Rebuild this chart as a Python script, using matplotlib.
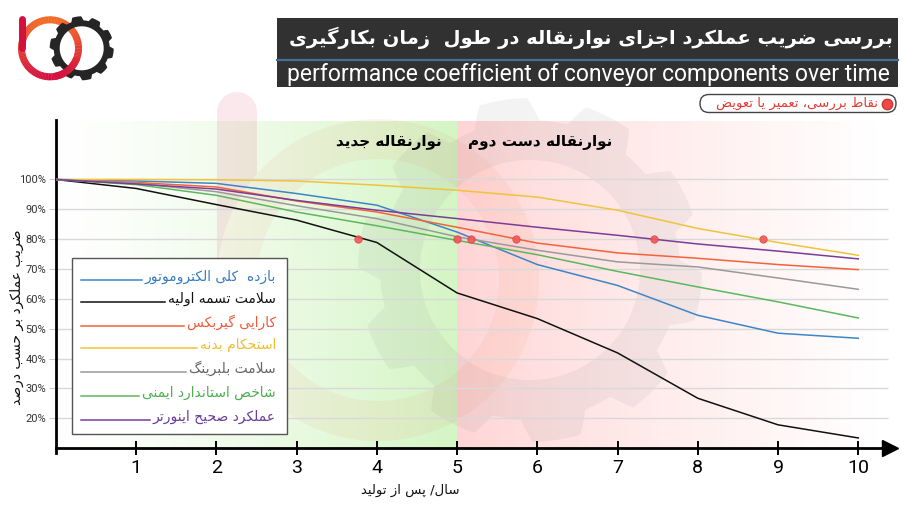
import numpy as np
import matplotlib.pyplot as plt
from matplotlib.patches import Rectangle, FancyBboxPatch, Wedge, PathPatch
from matplotlib.path import Path
from matplotlib.lines import Line2D
from matplotlib.transforms import Affine2D

## DATA

years = [0, 1, 2, 3, 4, 5, 6, 7, 8, 9, 10]
motor = [100, 99.5, 98.7, 95.3, 91.4, 82.4, 71.5, 64.5, 54.5, 48.5, 46.8]
belt = [100, 97.0, 91.6, 86.4, 78.9, 62.0, 53.4, 41.9, 26.7, 17.8, 13.4]
gearbox = [100, 99.0, 97.5, 92.8, 89.1, 84.0, 78.7, 75.4, 73.6, 71.5, 69.8]
body = [100, 100, 99.9, 99.5, 98.1, 96.4, 94.1, 89.7, 83.6, 78.9, 74.6]
bearing = [100, 98.7, 95.9, 91.2, 86.9, 80.8, 76.3, 72.4, 70.7, 67.0, 63.2]
safety = [100, 98.3, 94.7, 89.1, 84.5, 79.6, 74.8, 69.2, 64.0, 59.0, 53.6]
inverter = [100, 98.5, 96.8, 93.0, 89.7, 86.9, 84.0, 81.3, 78.4, 76.0, 73.4]

check_x = [3.77, 5.0, 5.17, 5.73, 7.45, 8.81]
check_y = [80, 80, 80, 80, 80, 80]

x_ticks = [1, 2, 3, 4, 5, 6, 7, 8, 9, 10]
y_ticks = [20, 30, 40, 50, 60, 70, 80, 90, 100]

names = ['بازده  کلی الکتروموتور', 'سلامت تسمه اولیه', 'کارایی گیربکس', 'استحکام بدنه',
         'سلامت بلبرینگ', 'شاخص استاندارد ایمنی', 'عملکرد صحیح اینورتر']
line_colors = ['#3d85c6', '#111111', '#f4623a', '#efc43a', '#9a9a9a', '#5cb85c', '#7d3c98']
text_colors = ['#3a7cc0', '#111111', '#f05a3a', '#eebf2f', '#666666', '#4caf50', '#6a3d9a']

title_fa = 'بررسی ضریب عملکرد اجزای نوارنقاله در طول  زمان بکارگیری'
title_en = 'performance coefficient of conveyor components over time'
badge = 'نقاط بررسی، تعمیر یا تعویض'
zone_new = 'نوارنقاله جدید'
zone_used = 'نوارنقاله دست دوم'
x_label = 'سال/ پس از تولید'
y_label = 'ضریب عملکرد بر حسب درصد'

## PERSIAN SHAPING (no reshaper lib available, so presentation forms by hand)

FORMS = {
    'ا': ('\uFE8D', '\uFE8E', None, None),
    'آ': ('\uFE81', '\uFE82', None, None),
    'ب': ('\uFE8F', '\uFE90', '\uFE91', '\uFE92'),
    'پ': ('\uFB56', '\uFB57', '\uFB58', '\uFB59'),
    'ت': ('\uFE95', '\uFE96', '\uFE97', '\uFE98'),
    'ث': ('\uFE99', '\uFE9A', '\uFE9B', '\uFE9C'),
    'ج': ('\uFE9D', '\uFE9E', '\uFE9F', '\uFEA0'),
    'چ': ('\uFB7A', '\uFB7B', '\uFB7C', '\uFB7D'),
    'ح': ('\uFEA1', '\uFEA2', '\uFEA3', '\uFEA4'),
    'خ': ('\uFEA5', '\uFEA6', '\uFEA7', '\uFEA8'),
    'د': ('\uFEA9', '\uFEAA', None, None),
    'ذ': ('\uFEAB', '\uFEAC', None, None),
    'ر': ('\uFEAD', '\uFEAE', None, None),
    'ز': ('\uFEAF', '\uFEB0', None, None),
    'ژ': ('\uFB8A', '\uFB8B', None, None),
    'س': ('\uFEB1', '\uFEB2', '\uFEB3', '\uFEB4'),
    'ش': ('\uFEB5', '\uFEB6', '\uFEB7', '\uFEB8'),
    'ص': ('\uFEB9', '\uFEBA', '\uFEBB', '\uFEBC'),
    'ض': ('\uFEBD', '\uFEBE', '\uFEBF', '\uFEC0'),
    'ط': ('\uFEC1', '\uFEC2', '\uFEC3', '\uFEC4'),
    'ظ': ('\uFEC5', '\uFEC6', '\uFEC7', '\uFEC8'),
    'ع': ('\uFEC9', '\uFECA', '\uFECB', '\uFECC'),
    'غ': ('\uFECD', '\uFECE', '\uFECF', '\uFED0'),
    'ف': ('\uFED1', '\uFED2', '\uFED3', '\uFED4'),
    'ق': ('\uFED5', '\uFED6', '\uFED7', '\uFED8'),
    '\u06A9': ('\uFB8E', '\uFB8F', '\uFB90', '\uFB91'),
    'گ': ('\uFB92', '\uFB93', '\uFB94', '\uFB95'),
    'ل': ('\uFEDD', '\uFEDE', '\uFEDF', '\uFEE0'),
    'م': ('\uFEE1', '\uFEE2', '\uFEE3', '\uFEE4'),
    'ن': ('\uFEE5', '\uFEE6', '\uFEE7', '\uFEE8'),
    'و': ('\uFEED', '\uFEEE', None, None),
    'ه': ('\uFEE9', '\uFEEA', '\uFEEB', '\uFEEC'),
    '\u06CC': ('\uFBFC', '\uFBFD', '\uFBFE', '\uFBFF'),
    '\uFEFB': ('\uFEFB', '\uFEFC', None, None),  # lam-alef
}


def fa(text):
    text = text.replace('\u064A', '\u06CC').replace('\u0643', '\u06A9').replace('\u0644\u0627', '\uFEFB')
    out = []
    for i, ch in enumerate(text):
        f = FORMS.get(ch)
        if f is None:
            out.append(ch)
            continue
        prev = text[i - 1] if i > 0 else ''
        nxt = text[i + 1] if i + 1 < len(text) else ''
        jp = prev in FORMS and FORMS[prev][2] is not None
        jn = f[2] is not None and nxt in FORMS
        if jp and jn:
            out.append(f[3])
        elif jp:
            out.append(f[1])
        elif jn:
            out.append(f[2])
        else:
            out.append(f[0])
    return ''.join(reversed(out))


def mix(c1, c2, t):
    a = np.array(plt.matplotlib.colors.to_rgb(c1))
    b = np.array(plt.matplotlib.colors.to_rgb(c2))
    return tuple(a + (b - a) * t)


def gear_path(cx, cy, r_in, r_base, r_tip, n):
    t = np.linspace(0, 2 * np.pi, 1441)
    ph = (t * n / (2 * np.pi) + 0.25) % 1
    tri = 1 - np.abs(2 * ph - 1)
    k = np.clip((tri - 0.3) * 4, 0, 1)
    r = r_base + (r_tip - r_base) * k
    outer = np.column_stack([cx + r * np.cos(t), cy + r * np.sin(t)])
    inner = np.column_stack([cx + r_in * np.cos(t[::-1]), cy + r_in * np.sin(t[::-1])])
    codes = [Path.MOVETO] + [Path.LINETO] * (len(outer) - 1) + [Path.MOVETO] + [Path.LINETO] * (len(inner) - 1)
    return Path(np.vstack([outer, inner]), codes)


def ring_path(cx, cy, r_in, r_out):
    t = np.linspace(0, 2 * np.pi, 721)
    outer = np.column_stack([cx + r_out * np.cos(t), cy + r_out * np.sin(t)])
    inner = np.column_stack([cx + r_in * np.cos(t[::-1]), cy + r_in * np.sin(t[::-1])])
    codes = [Path.MOVETO] + [Path.LINETO] * (len(outer) - 1) + [Path.MOVETO] + [Path.LINETO] * (len(inner) - 1)
    return Path(np.vstack([outer, inner]), codes)


## FIGURE

W, H = 915, 515
fig = plt.figure(figsize=(W / 100, H / 100), dpi=100)
fig.patch.set_facecolor('white')
PX = Affine2D().scale(1 / W, -1 / H).translate(0, 1) + fig.transFigure  # pixel coords, origin top-left

ax = fig.add_axes([55.8 / W, (H - 448.1) / H, 842.6 / W, 328.3 / H])
ax.set_facecolor('none')

# zone backgrounds
xs = np.linspace(0, 1, 256)
green = np.array([mix('white', '#d4f5c4', t ** 1.3) for t in xs])[None, :, :]
red = np.array([mix('#ffd4d4', 'white', min(1, t * 1.05) ** 0.8) for t in xs])[None, :, :]
ax.imshow(green, extent=[0, 5, 10, 119.3], aspect='auto', zorder=0, interpolation='bilinear')
ax.imshow(red, extent=[5, 10.5, 10, 119.3], aspect='auto', zorder=0, interpolation='bilinear')

# faded logo watermark
ax.add_patch(PathPatch(gear_path(530, 270, 110, 150, 172, 10), transform=PX, facecolor='#808080',
                       edgecolor='none', alpha=0.09, zorder=0.5, clip_on=False))
rcx, rcy, rin, rout = 378, 280, 121, 161
ax.add_patch(PathPatch(ring_path(rcx, rcy, rin, rout), transform=PX, facecolor='#f07040',
                       edgecolor='none', alpha=0.07, zorder=0.5, clip_on=False))
# stem of the "b", cut along the ring so the alpha does not double
phi1 = np.arccos((257 - rcx) / rout)
arc_t = np.linspace(phi1, np.pi, 60)
cap_t = np.linspace(np.pi, 0, 40)
stem = np.vstack([
    np.column_stack([237 + 20 * np.cos(cap_t), 112 - 20 * np.sin(cap_t)]),
    [[257, rcy - rout * np.sin(phi1)]],
    np.column_stack([rcx + rout * np.cos(arc_t), rcy - rout * np.sin(arc_t)]),
    [[217, 112]],
])
ax.add_patch(PathPatch(Path(stem, closed=False), transform=PX, facecolor='#e0204a', edgecolor='none',
                       alpha=0.1, zorder=0.5, clip_on=False))

# grid
ax.hlines(y_ticks, 0, 10.37, color='#d9d9d9', lw=1, zorder=1)

# series
series = [motor, belt, gearbox, body, bearing, safety, inverter]
for vals, c in zip(series, line_colors):
    ax.plot(years, vals, color=c, lw=1.1, zorder=3)

ax.scatter(check_x, check_y, s=28, color='#f25757', edgecolor='#d94444', linewidth=0.6, alpha=0.9, zorder=4)

# axes
ax.set_xlim(0, 10.5)
ax.set_ylim(10, 120)
for s in ['top', 'right']:
    ax.spines[s].set_visible(False)
ax.spines['bottom'].set_linewidth(2)
ax.spines['bottom'].set_bounds(0, 10.3)
ax.spines['left'].set_linewidth(2)
ax.spines['left'].set_bounds(8.3, 120)
ax.plot([10.4], [10], marker='>', ms=11, color='black', clip_on=False, zorder=5)

ax.set_xticks(x_ticks, labels=[str(v) for v in x_ticks])
ax.tick_params(axis='x', direction='inout', length=10, width=1.4, labelsize=14, pad=3)
ax.set_yticks(y_ticks, labels=[f'{v}%' for v in y_ticks])
ax.tick_params(axis='y', length=5, color='#cccccc', labelsize=8, pad=2, labelcolor='#333333')
for lbl in ax.get_xticklabels() + ax.get_yticklabels():
    lbl.set_fontfamily('Roboto')

ax.text(17, 317, fa(y_label), transform=PX, rotation=90, ha='center', va='center', fontsize=10,
        family='DejaVu Sans', color='#111111')
ax.text(410, 490, fa(x_label), transform=PX, ha='center', va='center', fontsize=9.5,
        family='DejaVu Sans', color='#111111')

# zone labels
ax.text(442, 143, fa(zone_new), transform=PX, ha='right', va='center', fontsize=11,
        fontweight='bold', family='DejaVu Sans', zorder=6)
ax.text(612, 143, fa(zone_used), transform=PX, ha='right', va='center', fontsize=11,
        fontweight='bold', family='DejaVu Sans', zorder=6)

# legend, drawn by hand
ax.add_patch(Rectangle((71.7, 258.3), 215, 175.7, transform=PX, facecolor='white', edgecolor='#555555',
                       lw=1, zorder=6, clip_on=False))
rows_y = [277, 299, 322.5, 345, 368.5, 392.5, 416.5]
legend_texts = []
for name, tc, ry in zip(names, text_colors, rows_y):
    legend_texts.append(ax.text(276, ry, fa(name), transform=PX, ha='right', va='center', fontsize=10,
                                family='DejaVu Sans', color=tc, zorder=7))

# title block
ax.add_patch(Rectangle((276.7, 18.3), 621.3, 69, transform=PX, facecolor='#313131', edgecolor='none',
                       zorder=10, clip_on=False))
ax.add_line(Line2D([276.7, 898], [59.5, 59.5], transform=PX, color='#3f7193', lw=1.6, zorder=11,
                   clip_on=False))
ax.text(893, 38, fa(title_fa), transform=PX, ha='right', va='center', fontsize=14, fontweight='bold',
        family='DejaVu Sans', color='white', zorder=11)
ax.text(890, 74, title_en, transform=PX, ha='right', va='center', fontsize=16.5, family='Roboto',
        color='white', zorder=11)

# badge top right
ax.add_patch(FancyBboxPatch((700, 94.5), 196, 18, boxstyle='round,pad=0,rounding_size=9', transform=PX,
                            facecolor='white', edgecolor='#444444', lw=1, zorder=10, clip_on=False))
ax.plot([887], [103.5], marker='o', ms=7.5, color='#f04848', markeredgecolor='#c83a3a', transform=PX,
        clip_on=False, zorder=11)
ax.text(878, 103.5, fa(badge), transform=PX, ha='right', va='center', fontsize=9.5, family='DejaVu Sans',
        color='#e53935', zorder=11)

# small logo top left
crimson, orange = '#d4103f', '#f26a24'
lcx, lcy, lr, lw_ = 50, 48.3, 28.5, 7


def logo_ring(a0, a1):
    for a in range(a0, a1, 3):
        f = (1 + np.sin(np.radians(a + 1.5))) / 2
        ax.add_patch(Wedge((lcx, lcy), lr + lw_ / 2, a, a + 3.6, width=lw_, transform=PX,
                           color=mix(orange, crimson, f), lw=0, zorder=12, clip_on=False))


logo_ring(0, 360)
ax.add_patch(PathPatch(gear_path(81.7, 48.3, 22, 28, 32, 10), transform=PX, facecolor='#252525',
                       edgecolor='none', zorder=12, clip_on=False))
logo_ring(20, 80)
ax.add_line(Line2D([21.7, 21.7], [19, 48], transform=PX, color=crimson, lw=5, solid_capstyle='round',
                   zorder=12, clip_on=False))

# legend sample lines stop just before their labels
fig.canvas.draw()
for t, c, ry in zip(legend_texts, line_colors, rows_y):
    left = t.get_window_extent().x0 * W / fig.bbox.width
    ax.add_line(Line2D([81, left - 3], [ry + 3, ry + 3], transform=PX, color=c, lw=1.1, zorder=7,
                       clip_on=False))

fig.savefig('out.png', dpi=100)
